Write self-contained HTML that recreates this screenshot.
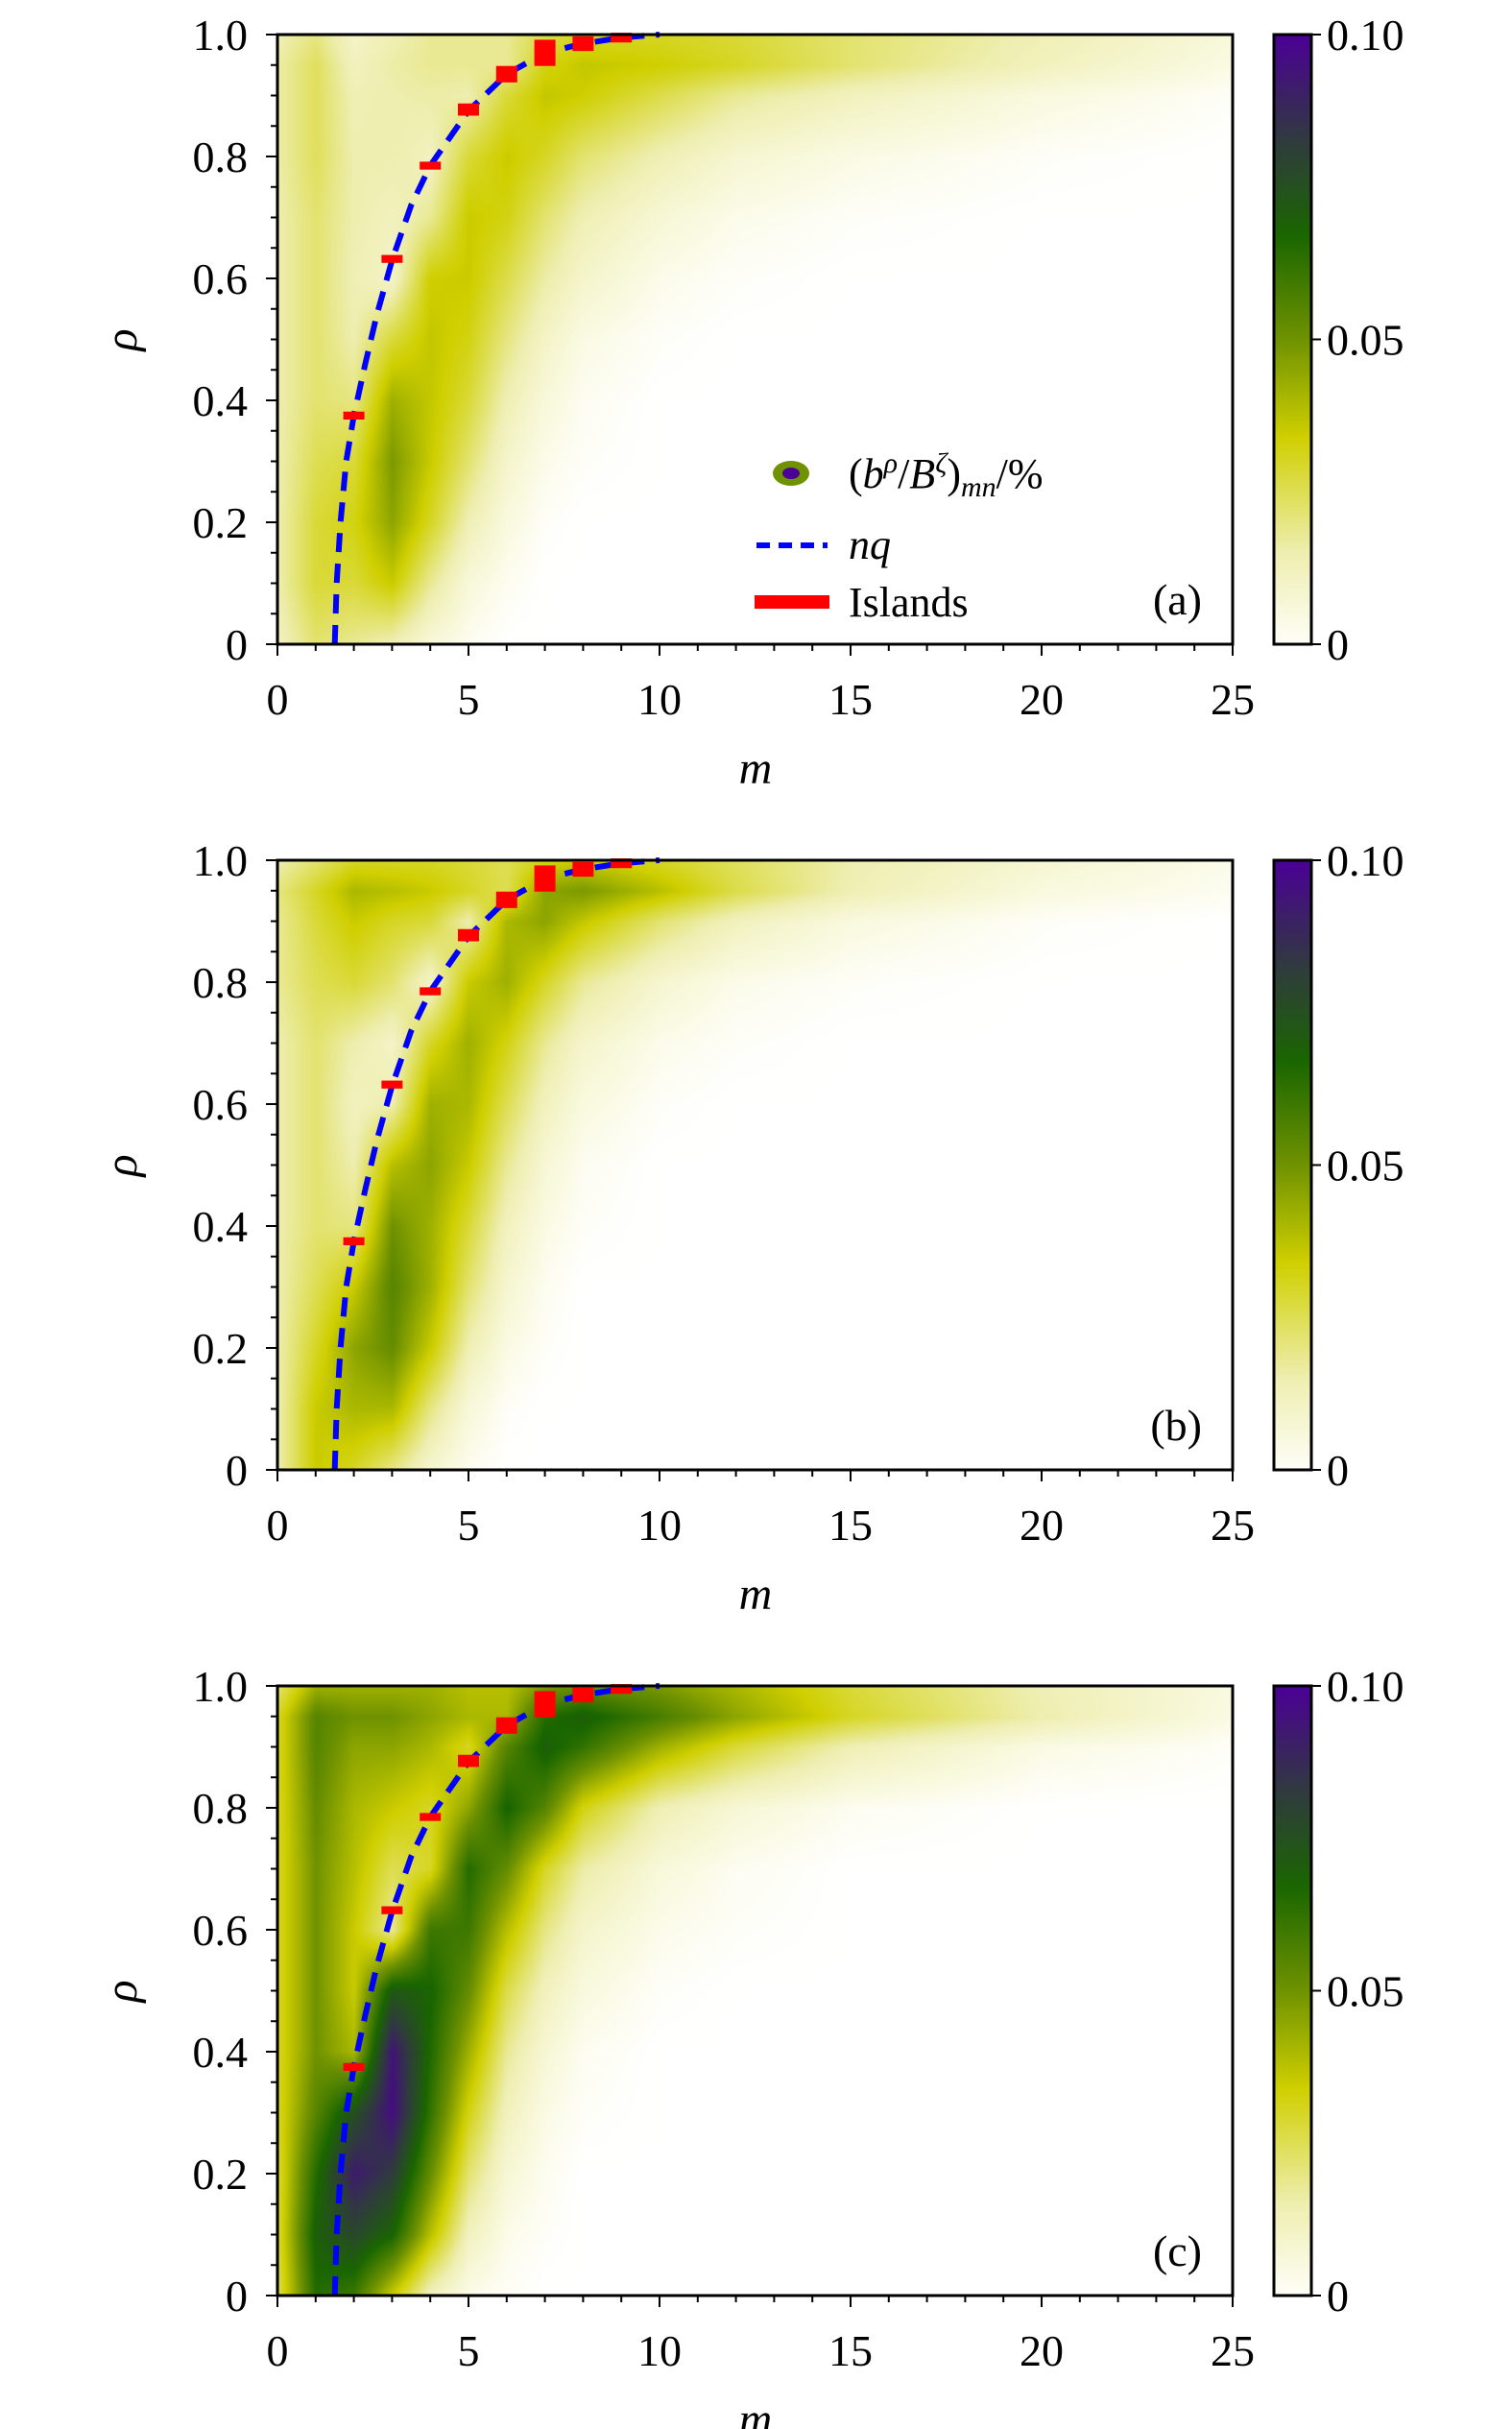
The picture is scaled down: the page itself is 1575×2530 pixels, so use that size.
<!DOCTYPE html>
<html><head><meta charset="utf-8">
<style>
html,body{margin:0;padding:0;background:#fff;}
#wrap{position:relative;width:1575px;height:2530px;overflow:hidden;font-family:"Liberation Serif",serif;}
canvas{position:absolute;}
svg{position:absolute;left:0;top:0;}
</style></head>
<body>
<div id="wrap">
<canvas id="c0" width="995" height="635" style="left:289px;top:36px"></canvas>
<canvas id="c1" width="995" height="635" style="left:289px;top:896px"></canvas>
<canvas id="c2" width="995" height="635" style="left:289px;top:1756px"></canvas>
<svg id="ov" width="1575" height="2530" xmlns="http://www.w3.org/2000/svg">
<defs>
<linearGradient id="cbg" x1="0" y1="1" x2="0" y2="0">
<stop offset="0" stop-color="#fefef8"/>
<stop offset="0.15" stop-color="#eeeeb0"/>
<stop offset="0.34" stop-color="#cfcf00"/>
<stop offset="0.5" stop-color="#6f9200"/>
<stop offset="0.67" stop-color="#1a6600"/>
<stop offset="0.82" stop-color="#2f3c3c"/>
<stop offset="1" stop-color="#4b0096"/>
</linearGradient>
</defs>
</svg>
</div>
<script>
// ---- data ----
const mNodes = [0,1,2,3,4,5,6,7,8,10,12,15,20,25];
const rhoNodes = [0,0.1,0.2,0.3,0.4,0.5,0.6,0.7,0.8,0.9,0.95,1.0];
// values in units of 0.001 (colorbar 0..0.10 => 0..100)
const fieldA = [
[12,22,18,14,6,2,0,0,0,0,0,0,0,0],
[15,28,28,35,18,6,2,0,0,0,0,0,0,0],
[15,28,32,45,30,14,5,1,0,0,0,0,0,0],
[15,25,28,48,35,22,9,3,1,0,0,0,0,0],
[15,22,20,42,36,28,14,6,2,0,0,0,0,0],
[15,22,15,28,36,32,20,10,4,1,0,0,0,0],
[15,22,14,10,34,35,26,16,9,3,1,0,0,0],
[15,22,15,12,18,35,32,22,14,7,3,1,0,0],
[16,24,15,15,12,28,35,30,22,14,8,4,1,0],
[16,24,14,15,16,15,28,36,34,26,18,12,5,1],
[16,24,12,16,18,18,18,32,36,34,30,22,12,4],
[14,20,10,14,18,18,18,26,30,30,28,22,14,6]];
const fieldB = [
[15,35,30,20,8,2,0,0,0,0,0,0,0,0],
[15,35,40,40,20,6,1,0,0,0,0,0,0,0],
[15,30,45,52,35,14,4,1,0,0,0,0,0,0],
[15,25,35,55,42,22,8,2,0,0,0,0,0,0],
[15,22,20,50,42,28,12,4,1,0,0,0,0,0],
[15,22,15,38,45,35,18,7,2,0,0,0,0,0],
[15,22,12,15,42,40,25,12,5,1,0,0,0,0],
[15,22,15,10,30,42,32,18,9,3,1,0,0,0],
[18,25,28,22,10,35,42,30,18,8,3,1,0,0],
[18,28,35,30,28,15,40,45,36,22,12,5,1,0],
[20,30,40,38,35,30,25,45,48,38,26,14,5,2],
[15,22,30,30,30,28,25,32,35,30,24,15,8,3]];
const fieldC = [
[25,65,60,35,12,3,1,0,0,0,0,0,0,0],
[28,70,78,68,38,12,3,1,0,0,0,0,0,0],
[28,65,92,82,52,22,7,2,0,0,0,0,0,0],
[30,55,75,96,62,32,12,4,1,0,0,0,0,0],
[30,50,40,94,66,42,18,7,2,0,0,0,0,0],
[30,50,35,72,68,52,26,12,5,1,0,0,0,0],
[30,50,35,18,60,60,38,20,9,3,1,0,0,0],
[30,50,38,25,30,65,52,30,16,6,2,0,0,0],
[30,52,40,35,30,45,68,55,32,14,7,2,0,0],
[30,55,45,45,40,30,55,70,62,42,28,14,4,1],
[30,55,50,50,45,40,40,65,70,58,45,30,15,4],
[22,42,42,42,42,38,38,48,52,48,40,28,14,5]];
const curveM = [1.5,1.55,1.65,1.8,2.0,2.3,2.6,3.0,3.5,4.0,5.0,6.0,7.0,8.0,9.0,10.0];
const curveRho = [0,0.1,0.2,0.3,0.375,0.46,0.54,0.63,0.72,0.785,0.875,0.935,0.97,0.985,0.995,1.0];
const islandM = [2,3,4,5,6,7,8,9];
const islandRho = [0.375,0.632,0.785,0.877,0.935,0.97,0.985,0.995];
const islandWidth = [0.013,0.013,0.013,0.02,0.027,0.043,0.024,0.016];
const xTicks = [0,5,10,15,20,25];
const yTicks = [0,0.2,0.4,0.6,0.8,1.0];
const yTickLabels = ["0","0.2","0.4","0.6","0.8","1.0"];
const cbTicks = [0,0.05,0.10];
const cbTickLabels = ["0","0.05","0.10"];
const panelLabels = ["(a)","(b)","(c)"];

// ---- layout ----
const PX=289, PW=995, PH=635, TOPS=[36,896,1756];
const CBX=1327, CBW=39;
const cmapStops=[[0,[255,255,255]],[4,[250,250,228]],[15,[238,238,176]],[34,[207,207,0]],[50,[111,146,0]],[67,[26,102,0]],[82,[47,60,60]],[100,[75,0,150]]];
function cmap(v){v=Math.max(0,Math.min(100,v));for(let i=1;i<cmapStops.length;i++){if(v<=cmapStops[i][0]){const a=cmapStops[i-1],b=cmapStops[i];const t=(v-a[0])/(b[0]-a[0]);return [0,1,2].map(k=>a[1][k]+(b[1][k]-a[1][k])*t);}}return cmapStops[cmapStops.length-1][1];}
function seg(nodes,v){let i=0;while(i<nodes.length-2&&v>nodes[i+1])i++;return [i,(v-nodes[i])/(nodes[i+1]-nodes[i])];}
function sample(f,m,r){const [i,u]=seg(mNodes,m),[j,w]=seg(rhoNodes,r);
const a=f[j][i],b=f[j][i+1],c=f[j+1][i],d=f[j+1][i+1];
return (a*(1-u)+b*u)*(1-w)+(c*(1-u)+d*u)*w;}
const fields=[fieldA,fieldB,fieldC];
fields.forEach((f,p)=>{const cv=document.getElementById('c'+p),ctx=cv.getContext('2d');const img=ctx.createImageData(PW,PH);
for(let y=0;y<PH;y++){const r=1-y/(PH-1);for(let x=0;x<PW;x++){const m=x/(PW-1)*25;const c=cmap(sample(f,m,r));const o=(y*PW+x)*4;img.data[o]=c[0];img.data[o+1]=c[1];img.data[o+2]=c[2];img.data[o+3]=255;}}
ctx.putImageData(img,0,0);});

// ---- svg ----
const NS="http://www.w3.org/2000/svg",ov=document.getElementById('ov');
function el(t,at,par){const e=document.createElementNS(NS,t);for(const k in at)e.setAttribute(k,at[k]);(par||ov).appendChild(e);return e;}
const FF='Liberation Serif, serif';
TOPS.forEach((T,p)=>{
const g=el('g',{});


const X=m=>PX+m/25*PW, Y=r=>T+(1-r)*PH;
const d=curveM.map((m,i)=>(i?'L':'M')+X(m).toFixed(1)+' '+Y(curveRho[i]).toFixed(1)).join(' ');
const cl=el('path',{d:d,fill:'none',stroke:'#0000ff','stroke-width':6,'stroke-dasharray':'20 12'},g);


islandM.forEach((m,i)=>{const h=islandWidth[i]*PH;const r=el('rect',{x:X(m)-11,y:Y(islandRho[i])-h/2,width:22,height:h,fill:'#ff0000'},g);

});
const fr=el('rect',{x:PX,y:T,width:PW,height:PH,fill:'none',stroke:'#000','stroke-width':3},g);


for(let m=0;m<=25;m++){const maj=m%5===0;el('line',{x1:X(m),x2:X(m),y1:T+PH,y2:T+PH+(maj?12:7),stroke:'#000','stroke-width':2},g);}
xTicks.forEach(v=>{const t=el('text',{x:X(v),y:T+PH+73,'text-anchor':'middle','font-size':46,'font-family':FF},g);t.textContent=v;

});
for(let k=0;k<=20;k++){const r=k*0.05;const maj=k%4===0;el('line',{x1:PX,x2:PX-(maj?12:7),y1:Y(r),y2:Y(r),stroke:'#000','stroke-width':2},g);}
yTicks.forEach((v,i)=>{const t=el('text',{x:258,y:Y(v)+16,'text-anchor':'end','font-size':46,'font-family':FF},g);t.textContent=yTickLabels[i];

});
const xt=el('text',{x:787,y:T+780,'text-anchor':'middle','font-size':48,'font-style':'italic','font-family':FF},g);xt.textContent='m';


const yt=el('text',{x:0,y:0,'text-anchor':'middle','font-size':48,'font-style':'italic','font-family':FF,transform:`translate(142 ${T+318}) rotate(-90)`},g);yt.textContent='ρ';


const pl=el('text',{x:1252,y:T+604,'text-anchor':'end','font-size':46,'font-family':FF},g);pl.textContent=panelLabels[p];


const cb=el('rect',{x:CBX,y:T,width:CBW,height:PH,fill:'url(#cbg)',stroke:'#000','stroke-width':3},g);


cbTicks.forEach((v,i)=>{const y=T+(1-v/0.1)*PH;el('line',{x1:CBX+CBW,x2:CBX+CBW+10,y1:y,y2:y,stroke:'#000','stroke-width':2},g);
const t=el('text',{x:1382,y:y+16,'font-size':46,'font-family':FF},g);t.textContent=cbTickLabels[i];

});
});
const lg=el('g',{});


el('ellipse',{cx:824,cy:493,rx:19,ry:13,fill:'#6f9200'},lg);
el('ellipse',{cx:824,cy:493,rx:9,ry:6,fill:'#4b0096'},lg);
const l1=el('text',{x:884,y:508,'font-size':44,'font-family':FF},lg);
l1.innerHTML='(<tspan font-style="italic">b</tspan><tspan font-style="italic" font-size="30" dy="-16">ρ</tspan><tspan dy="16">/</tspan><tspan font-style="italic">B</tspan><tspan font-style="italic" font-size="30" dy="-16">ζ</tspan><tspan dy="16">)</tspan><tspan font-style="italic" font-size="30" dy="9">mn</tspan><tspan dy="-9">/%</tspan>';
el('line',{x1:788,x2:862,y1:568,y2:568,stroke:'#0000ff','stroke-width':6,'stroke-dasharray':'14 9'},lg);
const l2=el('text',{x:884,y:582,'font-size':44,'font-style':'italic','font-family':FF},lg);l2.textContent='nq';
el('rect',{x:786,y:620,width:78,height:14,fill:'#ff0000'},lg);
const l3=el('text',{x:884,y:642,'font-size':44,'font-family':FF},lg);l3.textContent='Islands';
</script>
</body></html>
